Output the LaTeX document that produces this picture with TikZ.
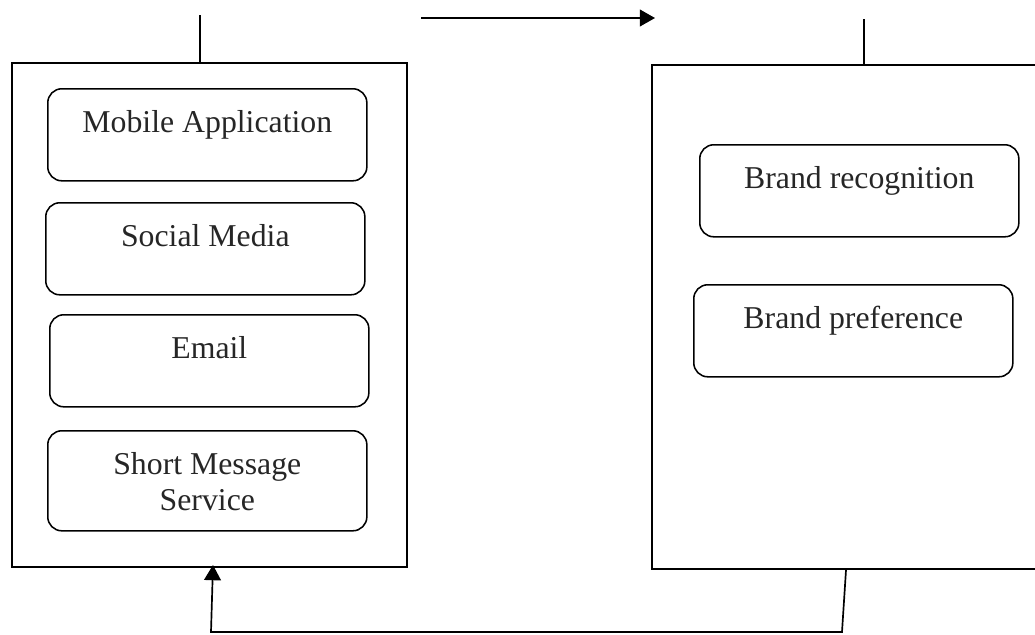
\documentclass[tikz,border=0pt]{standalone}
\usepackage{fontspec}
\setmainfont{Liberation Serif}
\usetikzlibrary{arrows.meta}

\begin{document}
\begin{tikzpicture}[x=0.025cm, y=-0.025cm, line width=1.2pt,
    outer/.style={draw, rectangle, line width=1.4pt, minimum height=12.6cm, anchor=north west, inner sep=0pt},
    item/.style={draw, rectangle, rounded corners=0.35cm, line width=1.1pt, anchor=north west,
        minimum width=7.975cm, inner ysep=0pt, text height=1.1cm, text depth=1.2cm,
        align=center, font=\fontsize{22.6}{25.6}\selectfont, text=black!85},
    link/.style={-{Triangle[length=0.38cm, width=0.42cm]}}]
    \clip (0,0) rectangle (1035,634);

    % Nodes
    \node (channels) [outer, minimum width=9.875cm] at (11,62) {};
    \node (outcomes) [outer, minimum width=10.5cm] at (651,64) {};
    \node (mobile) [item] at (47,88) {Mobile Application};
    \node (social) [item] at (45,202) {Social Media};
    \node (email) [item] at (49,314) {Email};
    \node (sms) [item, text height=2cm, text depth=0.5cm] at (47,430) {Short Message\\Service};
    \node (recog) [item] at (699,144) {Brand recognition};
    \node (pref) [item] at (693,284) {Brand preference};

    % Free ends
    \coordinate (ltop) at (200,15);
    \coordinate (rtop) at (864,19);
    \coordinate (astart) at (421,18);
    \coordinate (aend) at (655,18);
    \coordinate (rstart) at (846,0);
    \coordinate (rbot) at (842,632);
    \coordinate (lbot) at (211,632);
    \coordinate (ltip) at (213,565);

    % Arrows
    \draw (ltop) -- (ltop |- channels.north);
    \draw (rtop) -- (rtop |- outcomes.north);
    \draw[link] (astart) -- (aend);
    \draw[link] (rstart |- outcomes.south) -- (rbot) -- (lbot) -- (ltip);
\end{tikzpicture}
\end{document}
